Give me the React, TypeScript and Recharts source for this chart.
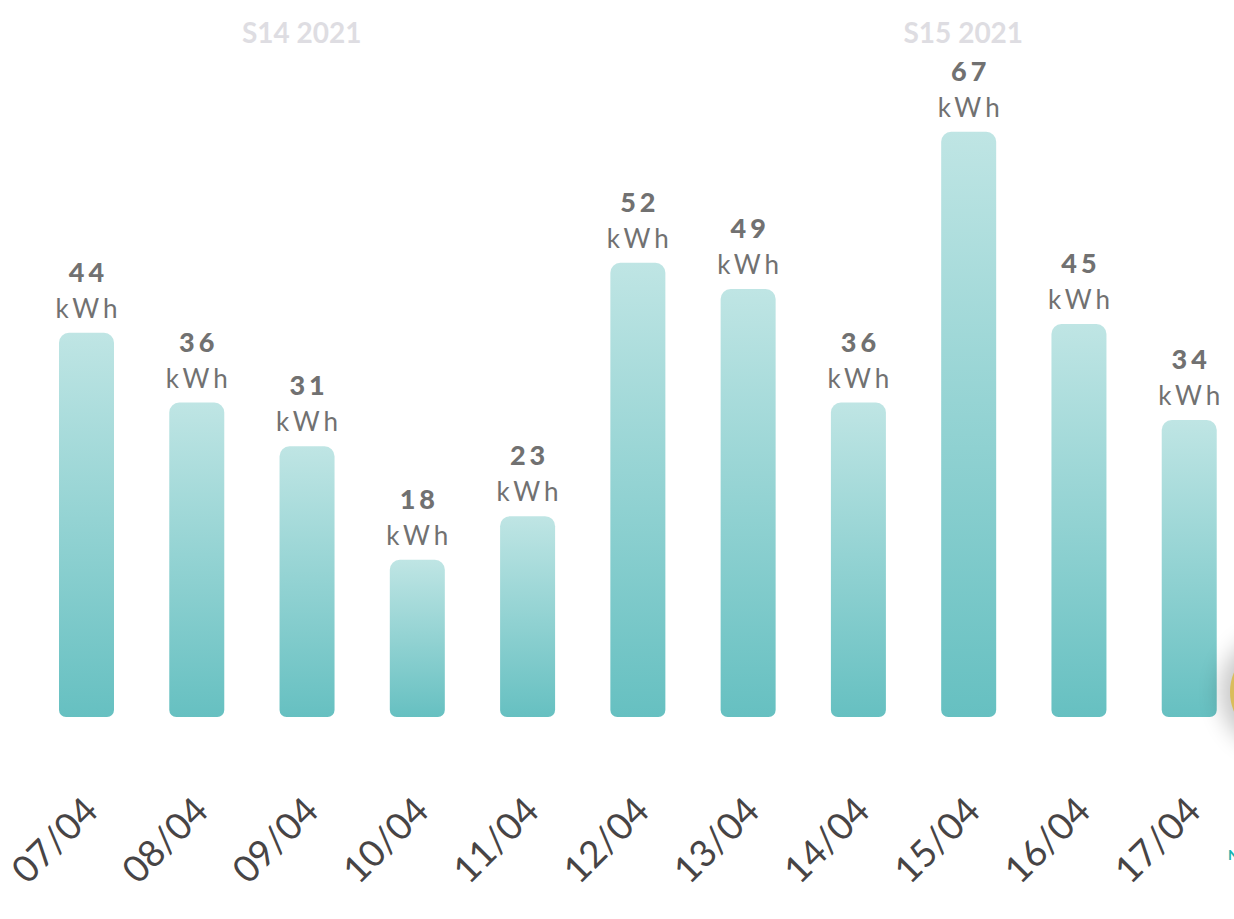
import React from "react";
import { BarChart, Bar, XAxis, YAxis, LabelList, ReferenceLine } from "recharts";

const categories = ["07/04", "08/04", "09/04", "10/04", "11/04", "12/04", "13/04", "14/04", "15/04", "16/04", "17/04"];
const values = [44, 36, 31, 18, 23, 52, 49, 36, 67, 45, 34];
const unit = "kWh";
const weekLabels = [
  { at: "09/04", text: "S14 2021" },
  { at: "15/04", text: "S15 2021" },
];

const data = categories.map((c, i) => ({ day: c, kwh: values[i] }));

const FONT = "Lato, 'Open Sans', sans-serif";

const ValueLabel = (props: any) => {
  const { x, y, width, value } = props;
  const cx = x + width / 2;
  return (
    <g>
      <text x={cx + 2} y={y - 51} textAnchor="middle" fill="#717171" fontFamily={FONT} fontWeight={900} fontSize={27} letterSpacing={4}>
        {value}
      </text>
      <text x={cx + 2} y={y - 15} textAnchor="middle" fill="#717171" fontFamily={FONT} fontWeight={400} fontSize={26} letterSpacing={4}>
        {unit}
      </text>
    </g>
  );
};

const DayTick = (props: any) => {
  const { x, y, payload } = props;
  return (
    <g transform={`translate(${x + 14},${y + 88})`}>
      <text x={0} y={0} textAnchor="end" transform="rotate(-45)" fill="#474445" fontFamily={FONT} fontSize={37} fontWeight={400}>
        {payload.value}
      </text>
    </g>
  );
};

const WeekLabel = (text: string) => (props: any) => {
  const vb = props.viewBox || {};
  return (
    <text x={vb.x - 5} y={vb.y - 19} textAnchor="middle" fill="#dedde2" fontFamily={FONT} fontWeight={700} fontSize={28}>
      {text}
    </text>
  );
};

export default function App() {
  return (
    <div style={{ position: "absolute", left: 0, top: 0, width: 1234, height: 919, overflow: "hidden", background: "#fff" }}>
      <BarChart width={1260} height={919} data={data} margin={{ top: 62, right: 16, bottom: 12, left: 31 }}>
        <defs>
          <linearGradient id="barGrad" x1="0" y1="0" x2="0" y2="1">
            <stop offset="0%" stopColor="#bfe5e4" />
            <stop offset="100%" stopColor="#66c0c1" />
          </linearGradient>
        </defs>
        <XAxis dataKey="day" axisLine={false} tickLine={false} height={190} tick={<DayTick />} interval={0} />
        <YAxis hide domain={[0, 75]} />
        {weekLabels.map((w) => (
          <ReferenceLine key={w.text} x={w.at} stroke="none" label={WeekLabel(w.text)} />
        ))}
        <Bar dataKey="kwh" fill="url(#barGrad)" barSize={55} radius={[10, 10, 7, 7]} isAnimationActive={false}>
          <LabelList dataKey="kwh" content={<ValueLabel />} />
        </Bar>
      </BarChart>
      <div
        style={{
          position: "absolute",
          left: 1230,
          top: 642,
          width: 100,
          height: 100,
          borderRadius: 50,
          background: "#d9bd5c",
          boxShadow: "0 0 22px 10px rgba(0,0,0,0.22)",
        }}
      />
      <div style={{ position: "absolute", left: 1228, top: 846, color: "#19b3b0", fontFamily: FONT, fontWeight: 700, fontSize: 14 }}>
        N
      </div>
    </div>
  );
}
